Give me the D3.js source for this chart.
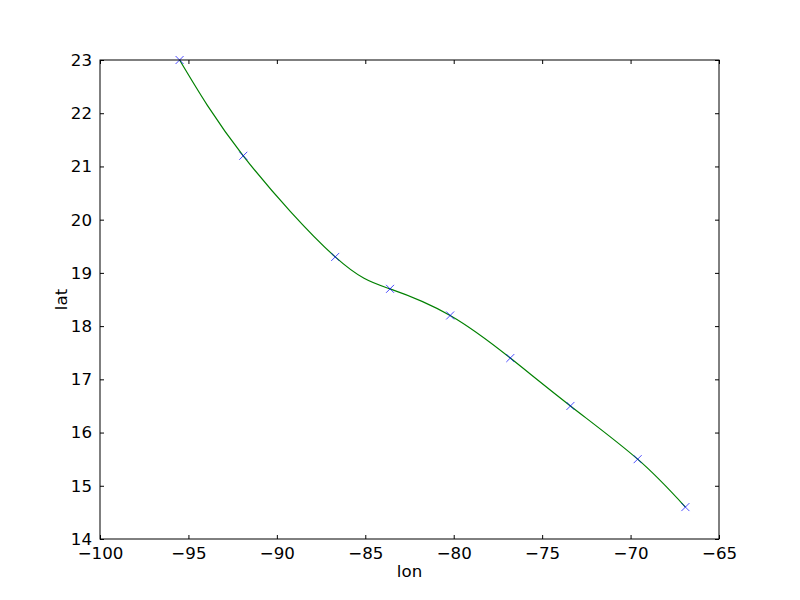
<!DOCTYPE html>
<html>
<head>
<meta charset="utf-8">
<script src="https://cdn.jsdelivr.net/npm/d3@7"></script>
<style>
	body { margin: 0; background: #fff; }
	svg text { font-family: "DejaVu Sans", sans-serif; font-size: 16.67px; fill: #000; }
</style>
</head>
<body>
<div id="chart"></div>
<script>
// storm track positions
const lon = [-95.5, -91.9, -86.7, -83.6, -80.2, -76.8, -73.4, -69.6, -66.9];
const lat = [23.0, 21.2, 19.3, 18.7, 18.2, 17.4, 16.5, 15.5, 14.6];
const xTicks = [-100, -95, -90, -85, -80, -75, -70, -65];
const yTicks = [14, 15, 16, 17, 18, 19, 20, 21, 22, 23];

let margin = {top: 60, right: 81, bottom: 61, left: 100}
	, width = 800 - margin.left - margin.right
	, height = 600 - margin.top - margin.bottom;

let points = lon.map((x, i) => ({x: x, y: lat[i]}));

let xScale = d3.scaleLinear().domain([-100, -65]).range([0, width]);
let yScale = d3.scaleLinear().domain([14, 23]).range([height, 0]);

let svg = d3.select("#chart")
	.append("svg")
	.attr("width", 800)
	.attr("height", 600)
	.append("g")
	.attr("transform", "translate(" + margin.left + "," + margin.top + ")");

const fmt = d => String(d).replace("-", "\u2212");

// bottom + top axes, ticks pointing inward
svg.append("g")
	.attr("transform", "translate(0," + height + ")")
	.call(d3.axisBottom(xScale).tickValues(xTicks).tickFormat(fmt).tickSizeInner(-4).tickSizeOuter(0).tickPadding(8));
svg.append("g")
	.call(d3.axisTop(xScale).tickValues(xTicks).tickFormat("").tickSizeInner(-4).tickSizeOuter(0));

// left + right axes
svg.append("g")
	.call(d3.axisLeft(yScale).tickValues(yTicks).tickSizeInner(-4).tickSizeOuter(0).tickPadding(8));
svg.append("g")
	.attr("transform", "translate(" + width + ",0)")
	.call(d3.axisRight(yScale).tickValues(yTicks).tickFormat("").tickSizeInner(-4).tickSizeOuter(0));

svg.selectAll(".domain").remove();
svg.selectAll(".tick line").attr("stroke", "#000").attr("stroke-width", 1);
svg.selectAll(".tick text").style("font-size", "16.67px").style("font-family", "DejaVu Sans");

// the interpolated track
let line = d3.line()
	.x(d => xScale(d.x))
	.y(d => yScale(d.y))
	.curve(d3.curveNatural);

svg.append("path")
	.datum(points)
	.attr("fill", "none")
	.attr("stroke", "#008000")
	.attr("stroke-width", 1.2)
	.attr("d", line);

// x markers
let s = 4;
svg.selectAll(".mark")
	.data(points)
	.enter().append("path")
	.attr("class", "mark")
	.attr("d", d => {
		let cx = xScale(d.x), cy = yScale(d.y);
		return "M" + (cx - s) + "," + (cy - s) + "L" + (cx + s) + "," + (cy + s) +
			"M" + (cx - s) + "," + (cy + s) + "L" + (cx + s) + "," + (cy - s);
	})
	.attr("stroke", "#0000ff")
	.attr("stroke-width", 0.7)
	.attr("fill", "none");

// frame
svg.append("rect")
	.attr("x", 0).attr("y", 0)
	.attr("width", width).attr("height", height)
	.attr("fill", "none")
	.attr("stroke", "#000")
	.attr("stroke-width", 1);

svg.append("text")
	.attr("x", width / 2)
	.attr("y", height + 38)
	.attr("text-anchor", "middle")
	.text("lon");

svg.append("text")
	.attr("transform", "translate(" + (-33) + "," + (height / 2) + ") rotate(-90)")
	.attr("text-anchor", "middle")
	.text("lat");
</script>
</body>
</html>
